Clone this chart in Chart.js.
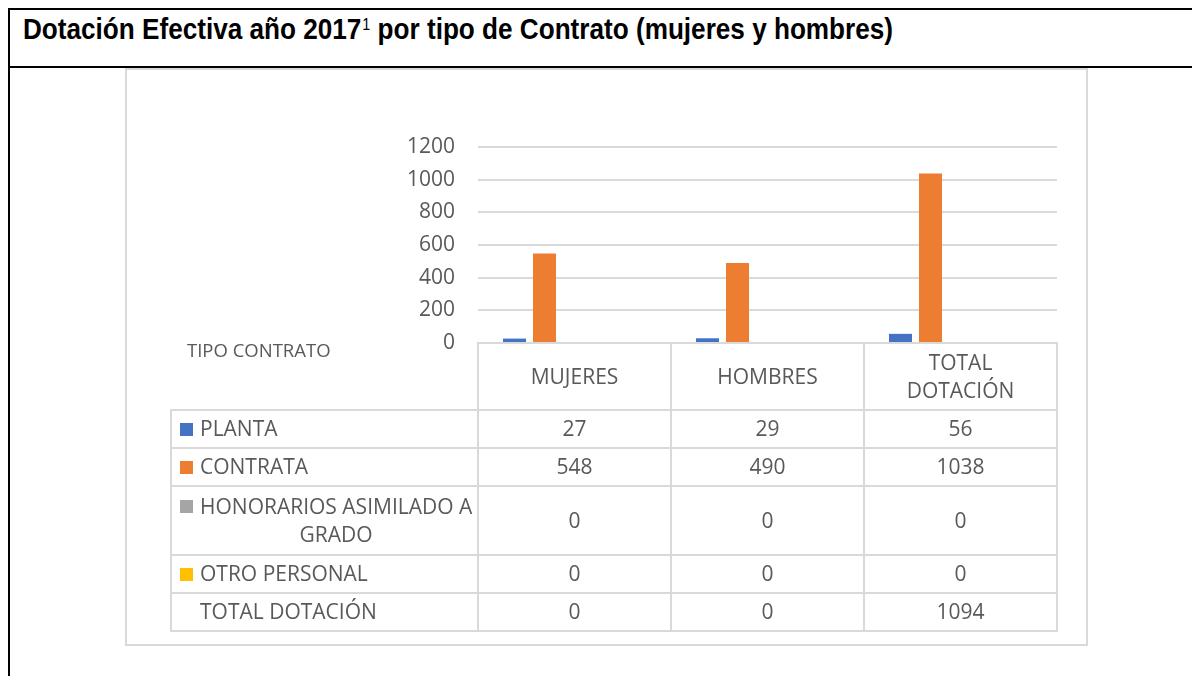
<!DOCTYPE html>
<html><head><meta charset="utf-8">
<script src="https://cdn.jsdelivr.net/npm/chart.js@4.4.1/dist/chart.umd.min.js"></script>
<style>
html,body{margin:0;padding:0;background:#fff;width:1192px;height:676px;overflow:hidden;}
#outer{position:absolute;left:8px;top:8px;width:1400px;height:900px;border:2px solid #000;box-sizing:border-box;}
#titleRow{position:absolute;left:8px;top:66px;width:1400px;height:2px;background:#000;}
#title{position:absolute;left:23px;top:15px;white-space:nowrap;font-family:'Liberation Sans Narrow','Liberation Sans',Arial,sans-serif;font-weight:bold;font-size:29px;line-height:29px;color:#000;transform-origin:0 0;}
#title .sup{font-weight:normal;font-size:16px;position:relative;top:-9px;margin-left:1px;}
#chartFrame{position:absolute;left:125px;top:68px;width:963px;height:578px;border:2px solid #d9d9d9;box-sizing:border-box;}
canvas{position:absolute;left:0;top:0;}
</style></head>
<body>
<div id="outer"></div><div id="titleRow"></div>
<div id="title">Dotación Efectiva año 2017<span class="sup">1</span> por tipo de Contrato (mujeres y hombres)</div>
<div id="chartFrame"></div>
<canvas id="c" width="1192" height="676"></canvas>
<script>
// ---- data ----
const categories = ['MUJERES', 'HOMBRES', 'TOTAL DOTACIÓN'];
const seriesNames = ['PLANTA', 'CONTRATA', 'HONORARIOS ASIMILADO A GRADO', 'OTRO PERSONAL', 'TOTAL DOTACIÓN'];
const planta = [27, 29, 56];
const contrata = [548, 490, 1038];
const honorarios = [0, 0, 0];
const otroPersonal = [0, 0, 0];
const totalDotacion = [0, 0, 1094];
const yTicks = [0, 200, 400, 600, 800, 1000, 1200];
const tableHeading = 'TIPO CONTRATO';

// ---- styles ----
const seriesColors = ['#4472C4', '#ED7D31', '#A5A5A5', '#FFC000', 'rgba(0,0,0,0)'];
const seriesHasKey = [true, true, true, true, false];
const seriesData = [planta, contrata, honorarios, otroPersonal, totalDotacion];
const textColor = '#595959';
const lineColor = '#d9d9d9';
const FONT = "'Open Sans', 'Noto Sans', sans-serif";

// title fit
(function(){
  const t = document.getElementById('title');
  const w = t.getBoundingClientRect().width;
  t.style.transform = 'scaleX(' + (870 / w) + ')';
})();

function wrap(ctx, text, maxW) {
  const words = text.split(' ');
  const lines = [];
  let cur = '';
  for (const w of words) {
    const t = cur ? cur + ' ' + w : w;
    if (cur && ctx.measureText(t).width > maxW) { lines.push(cur); cur = w; }
    else cur = t;
  }
  if (cur) lines.push(cur);
  return lines;
}

const tablePlugin = {
  id: 'dataTable',
  afterDraw(chart) {
    const ctx = chart.ctx;
    const area = chart.chartArea;
    const xs = chart.scales.x;
    const n = categories.length;
    const cw = (area.right - area.left) / n;
    const top = area.bottom;
    const tableLeft = 171;
    const labelX = 200;
    const keyX = 180, keySize = 13;
    const headerH = 67;
    const lineH = 28.5;
    const fs = 21;
    const capOff = fs * 0.714 / 2;
    ctx.save();
    ctx.font = fs + 'px ' + FONT;
    ctx.fillStyle = textColor;

    const rowLines = seriesNames.map(s => wrap(ctx, s, 300));
    const rowH = rowLines.map(l => l.length === 1 ? 38 : 38 + (l.length - 1) * 31);
    const rowTops = [];
    let y = top + headerH;
    for (let i = 0; i < rowH.length; i++) { rowTops.push(y); y += rowH[i]; }
    const bottom = y;

    ctx.strokeStyle = lineColor;
    ctx.lineWidth = 2;
    ctx.beginPath();
    ctx.moveTo(area.left, top); ctx.lineTo(area.right, top);
    for (let i = 0; i <= rowH.length; i++) {
      const yy = i < rowH.length ? rowTops[i] : bottom;
      ctx.moveTo(tableLeft - 1, yy); ctx.lineTo(area.right + 1, yy);
    }
    for (let c = 0; c <= n; c++) {
      const xx = Math.round(area.left + c * cw);
      ctx.moveTo(xx, top - 1); ctx.lineTo(xx, bottom + 1);
    }
    ctx.moveTo(tableLeft, top + headerH); ctx.lineTo(tableLeft, bottom + 1);
    ctx.stroke();

    ctx.textAlign = 'center';
    ctx.textBaseline = 'alphabetic';
    categories.forEach((cat, i) => {
      const lines = wrap(ctx, cat, 150);
      const cx = xs.getPixelForValue(i);
      const cy = top + headerH / 2;
      lines.forEach((ln, k) => {
        const ly = cy + (k - (lines.length - 1) / 2) * lineH;
        ctx.fillText(ln, cx, ly + capOff);
      });
    });

    seriesNames.forEach((name, r) => {
      const lines = rowLines[r];
      const cy = rowTops[r] + rowH[r] / 2;
      const widest = Math.max(...lines.map(l => ctx.measureText(l).width));
      const bc = labelX + widest / 2;
      lines.forEach((ln, k) => {
        const ly = cy + (k - (lines.length - 1) / 2) * lineH;
        ctx.textAlign = 'center';
        ctx.fillStyle = textColor;
        ctx.fillText(ln, bc, ly + capOff);
        if (k === 0 && seriesHasKey[r]) {
          ctx.fillStyle = seriesColors[r];
          ctx.fillRect(keyX, Math.round(ly - keySize / 2), keySize, keySize);
        }
      });
      ctx.fillStyle = textColor;
      ctx.textAlign = 'center';
      seriesData[r].forEach((v, i) => {
        ctx.fillText(String(v), xs.getPixelForValue(i), cy + capOff);
      });
    });

    ctx.font = '18.5px ' + FONT;
    ctx.textAlign = 'left';
    ctx.fillStyle = textColor;
    ctx.fillText(tableHeading, 187, 350 + 18.5 * 0.714 / 2);
    ctx.restore();
  }
};

new Chart(document.getElementById('c'), {
  type: 'bar',
  data: {
    labels: categories,
    datasets: seriesNames.map((name, i) => ({
      label: name,
      data: seriesData[i],
      backgroundColor: seriesColors[i],
      borderWidth: 0,
      categoryPercentage: 0.777,
      barPercentage: 0.767
    }))
  },
  options: {
    responsive: false,
    animation: false,
    devicePixelRatio: 1,
    layout: { padding: { left: 378, right: 135, top: 147, bottom: 333 } },
    plugins: { legend: { display: false }, tooltip: { enabled: false }, title: { display: false } },
    scales: {
      x: { display: false, offset: true },
      y: {
        min: 0, max: 1200,
        afterFit(s) { s.width = 100; },
        afterBuildTicks(s) { s.ticks = yTicks.map(v => ({ value: v })); },
        border: { display: false },
        grid: { color: lineColor, lineWidth: 2, drawTicks: false },
        ticks: { padding: 23, color: textColor, font: { family: FONT, size: 21 }, callback: v => String(v) }
      }
    }
  },
  plugins: [tablePlugin]
});
</script>
</body></html>
